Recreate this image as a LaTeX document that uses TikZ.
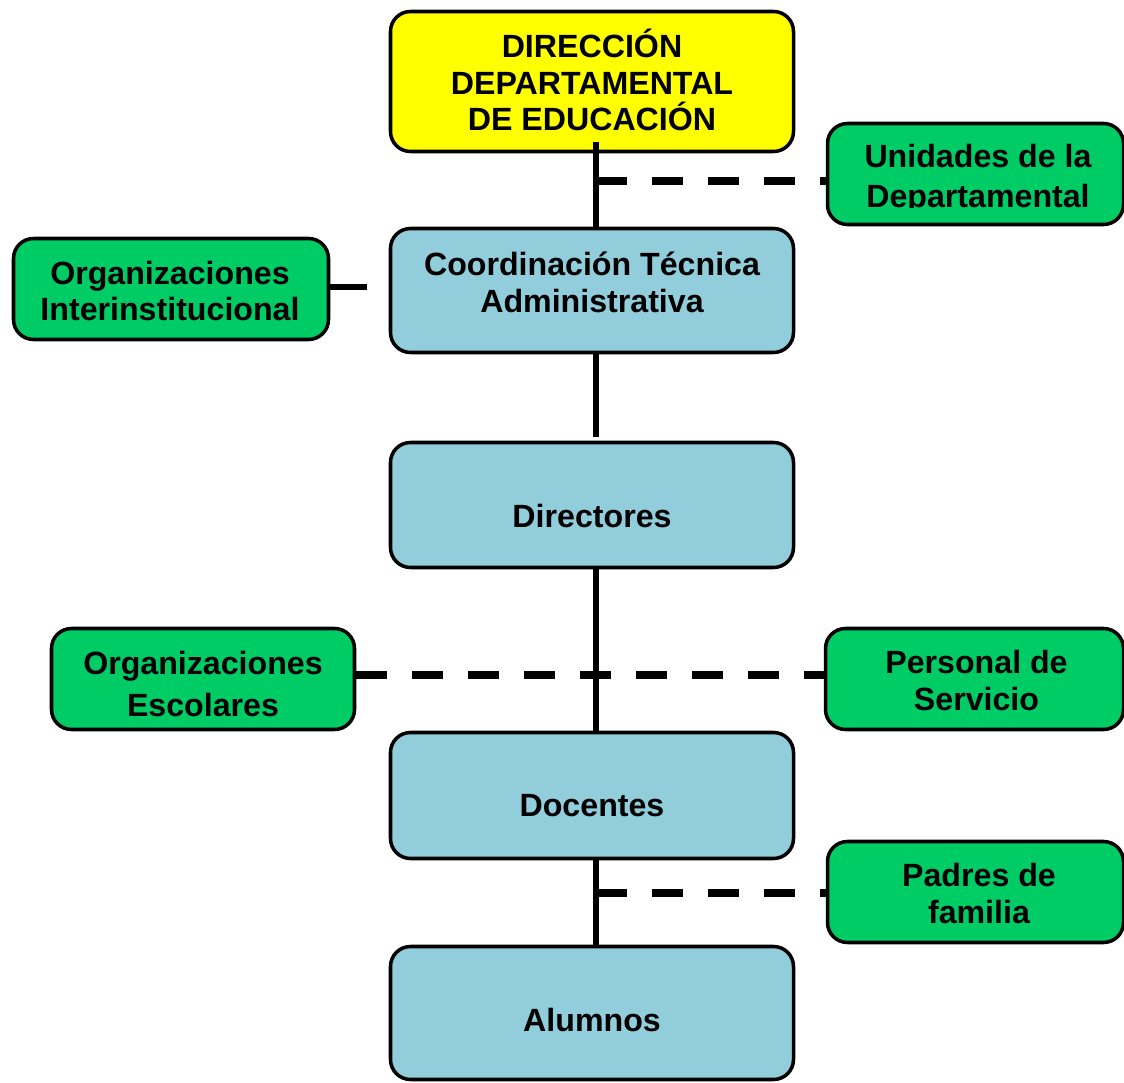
\documentclass[tikz,border=0pt]{standalone}
\usepackage{fontspec}
\setmainfont{Liberation Sans}
\usepackage{xcolor}
\usepackage{tikz}
\usetikzlibrary{calc}
\definecolor{amarillo}{HTML}{FFFF00}
\definecolor{celeste}{HTML}{92CDDC}
\definecolor{verde}{HTML}{00CC66}

\tikzset{
  caja/.style={draw=black, line width=2pt, rounded corners=0.4cm, inner sep=0pt},
  central/.style={caja, fill=celeste, minimum width=8.06cm},
  lateral/.style={caja, fill=verde, minimum height=2.02cm},
  txt/.style={font=\bfseries\fontsize{18.3}{21}\selectfont, align=center, inner sep=0pt},
  linea/.style={line width=3pt},
  trazos/.style={line width=4.2pt, dash pattern=on 0.62cm off 0.5cm}
}

\begin{document}
\begin{tikzpicture}
          \useasboundingbox (0,0) rectangle (22.48,-21.66);

          % cajas
          \node[caja, fill=amarillo, minimum width=8.06cm, minimum height=2.80cm] (dir) at (11.84,-1.63) {};
          \node[central, minimum height=2.48cm] (coord) at (11.84,-5.81) {};
          \node[central, minimum height=2.50cm] (directores) at (11.84,-10.10) {};
          \node[central, minimum height=2.52cm] (docentes) at (11.84,-15.91) {};
          \node[central, minimum height=2.66cm] (alumnos) at (11.84,-20.26) {};
          \node[lateral, minimum width=6.30cm] (orginter) at (3.42,-5.78) {};
          \node[lateral, minimum width=5.92cm] (unidades) at (19.51,-3.48) {};
          \node[lateral, minimum width=6.06cm] (orgesc) at (4.06,-13.58) {};
          \node[lateral, minimum width=5.96cm] (personal) at (19.49,-13.58) {};
          \node[lateral, minimum width=5.92cm] (padres) at (19.51,-17.84) {};

          % textos
          \node[txt] (tdir) at (11.84,-1.60) {DIRECCIÓN\\DEPARTAMENTAL\\DE EDUCACIÓN};
          \node[txt] (tcoord) at (11.84,-5.64) {Coordinación Técnica\\Administrativa};
          \node[txt] (tdirectores) at (11.84,-10.32) {Directores};
          \node[txt] (tdocentes) at (11.84,-16.12) {Docentes};
          \node[txt] (talumnos) at (11.84,-20.40) {Alumnos};
          \node[txt] (torginter) at (3.40,-5.82) {Organizaciones\\Interinstitucional};
          \begin{scope}
            \clip (15,-2.5) rectangle (23,-4.16);
            \node[txt] (tunidades) at (19.56,-3.58) {Unidades de la\\[0.06cm]Departamental};
          \end{scope}
          \node[txt] (torgesc) at (4.06,-13.68) {Organizaciones\\[0.1cm]Escolares};
          \node[txt] (tpersonal) at (19.53,-13.61) {Personal de\\Servicio};
          \node[txt] (tpadres) at (19.58,-17.87) {Padres de\\familia};

          % puntos de enlace
          \coordinate (eje) at (11.92,0);
          \coordinate (ramaU) at (11.92,-3.62);
          \coordinate (ramaP) at (11.92,-17.86);
          \coordinate (finI) at (7.34,-5.74);

          % linea central
          \draw[linea] ($(eje |- dir.south)+(0,0.22)$) -- (eje |- coord.north);
          \draw[linea] (eje |- coord.south) -- ($(eje |- directores.north)+(0,0.08)$);
          \draw[linea] (eje |- directores.south) -- (eje |- docentes.north);
          \draw[linea] (eje |- docentes.south) -- (eje |- alumnos.north);

          % enlaces laterales
          \draw[line width=3.5pt] (orginter.east |- finI) -- (finI);
          \draw[trazos] (ramaU) -- (ramaU -| unidades.west);
          \draw[trazos] (orgesc.east |- 0,-13.50) -- (personal.west |- 0,-13.50);
          \draw[trazos] (ramaP) -- (ramaP -| padres.west);
        \end{tikzpicture}
\end{document}
